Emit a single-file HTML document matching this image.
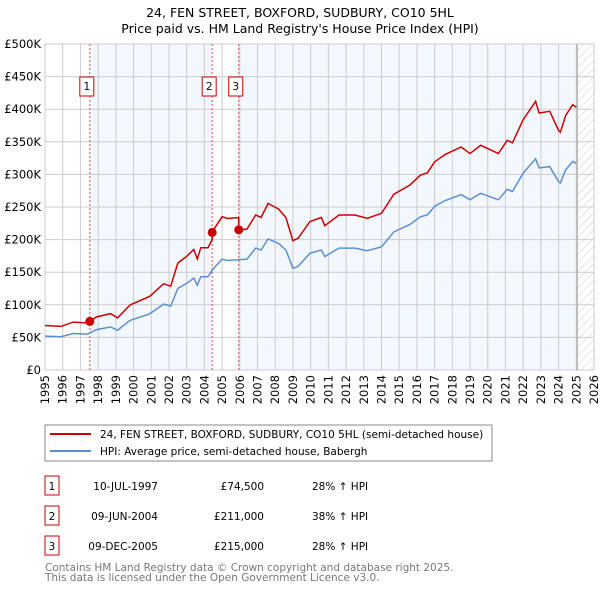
<!DOCTYPE html>
<html><head><meta charset="utf-8"><style>
body{margin:0;background:#fff;width:600px;height:590px;overflow:hidden;font-family:"DejaVu Sans","Liberation Sans",sans-serif}
svg text{font-family:"DejaVu Sans","Liberation Sans",sans-serif}
</style></head><body>
<svg id="chart" width="600" height="590" xmlns="http://www.w3.org/2000/svg">
<defs><pattern id="hatch" width="6" height="6" patternUnits="userSpaceOnUse" patternTransform="rotate(45)"><line x1="0" y1="0" x2="0" y2="6" stroke="#ccc" stroke-width="1"/></pattern></defs>
<text x="300" y="17" text-anchor="middle" font-size="12.5">24, FEN STREET, BOXFORD, SUDBURY, CO10 5HL</text>
<text x="300" y="33" text-anchor="middle" font-size="12.5">Price paid vs. HM Land Registry's House Price Index (HPI)</text>
<g id="plot"></g>
<g id="legend">
<rect x="45" y="425" width="447" height="36" fill="#fff" stroke="#888"/>
<line x1="50" y1="434" x2="91" y2="434" stroke="#cc0000" stroke-width="2"/>
<text x="100" y="438" font-size="10.5">24, FEN STREET, BOXFORD, SUDBURY, CO10 5HL (semi-detached house)</text>
<line x1="50" y1="451" x2="91" y2="451" stroke="#5b8fd4" stroke-width="2"/>
<text x="100" y="455" font-size="10.5">HPI: Average price, semi-detached house, Babergh</text>
</g>
<g id="table"></g>
<text x="45" y="571" font-size="10.5" fill="#777">Contains HM Land Registry data © Crown copyright and database right 2025.</text>
<text x="45" y="581" font-size="10.5" fill="#777">This data is licensed under the Open Government Licence v3.0.</text>
</svg>
<script>
const hpiYears=[1995.0,1995.9,1996.6,1997.4,1997.9,1998.7,1999.1,1999.8,2000.9,2001.7,2002.1,2002.5,2003.0,2003.4,2003.6,2003.8,2004.2,2004.5,2005.0,2005.3,2005.9,2006.4,2006.9,2007.2,2007.6,2008.2,2008.6,2009.0,2009.3,2009.96,2010.6,2010.8,2011.6,2012.5,2013.2,2014.0,2014.7,2015.6,2016.2,2016.6,2017.0,2017.6,2018.5,2019.0,2019.6,2020.6,2021.1,2021.4,2022.0,2022.7,2022.9,2023.5,2024.0,2024.1,2024.4,2024.8,2025.0];
const hpiValues=[52,51,56,55,62,66,61,76,86,101,98,125,133,141,130,143,143,155,170,168,169,170,187,184,201,194,184,156,159,179,184,174,187,187,183,189,212,223,235,238,251,260,269,261,271,261,277,274,302,324,310,312,289,287,307,320,317];
const saleLabels=["1","2","3"];
const saleDates=[1997.53,2004.44,2005.94];
const salePrices=[74.5,211,215];
const saleDateText=["10-JUL-1997","09-JUN-2004","09-DEC-2005"];
const salePriceText=["£74,500","£211,000","£215,000"];
const saleHpiText=["28% ↑ HPI","38% ↑ HPI","28% ↑ HPI"];
const yTicks=[0,50,100,150,200,250,300,350,400,450,500];
const yTickLabels=["£0","£50K","£100K","£150K","£200K","£250K","£300K","£350K","£400K","£450K","£500K"];
const xTicks=[1995,1996,1997,1998,1999,2000,2001,2002,2003,2004,2005,2006,2007,2008,2009,2010,2011,2012,2013,2014,2015,2016,2017,2018,2019,2020,2021,2022,2023,2024,2025,2026];
const dataEnd=2025.05;

const X0=45,X1=594,Y0=370,Y1=44,xmin=1995,xmax=2026,ymax=500;
const sx=v=>X0+(v-xmin)/(xmax-xmin)*(X1-X0);
const sy=v=>Y0-v/ymax*(Y0-Y1);
const NS="http://www.w3.org/2000/svg";
function mk(tag,attrs,parent){const e=document.createElementNS(NS,tag);for(const k in attrs)e.setAttribute(k,attrs[k]);parent.appendChild(e);return e;}
const plot=document.getElementById('plot');
function hpiAt(t){for(let i=0;i<hpiYears.length-1;i++){if(t<=hpiYears[i+1]){const f=(t-hpiYears[i])/(hpiYears[i+1]-hpiYears[i]);return hpiValues[i]+f*(hpiValues[i+1]-hpiValues[i]);}}return hpiValues[hpiValues.length-1];}

// background bands
let bg=mk('rect',{x:X0,y:Y1,width:X1-X0,height:Y0-Y1,fill:'#fff'},plot);


const bands=[[saleDates[0],saleDates[1]],[saleDates[2],dataEnd]];
bands.forEach(b=>{const r=mk('rect',{x:sx(b[0]),y:Y1,width:sx(b[1])-sx(b[0]),height:Y0-Y1,fill:'#eef3fd',opacity:0.7},plot);

});
const h=mk('rect',{x:sx(dataEnd),y:Y1,width:X1-sx(dataEnd),height:Y0-Y1,fill:'url(#hatch)'},plot);


// grid
xTicks.forEach(t=>{const l=mk('line',{x1:sx(t),x2:sx(t),y1:Y1,y2:Y0,stroke:'#cccccc','stroke-width':1},plot);


const tx=mk('text',{x:0,y:0,'font-size':11.5,'text-anchor':'end',transform:`translate(${sx(t)+4},${Y0+5}) rotate(-90)`},plot);
tx.textContent=t;

});
yTicks.forEach((t,i)=>{const l=mk('line',{x1:X0,x2:X1,y1:sy(t),y2:sy(t),stroke:'#cccccc','stroke-width':1},plot);


const tx=mk('text',{x:41,y:sy(t)+4,'font-size':11.5,'text-anchor':'end'},plot);
tx.textContent=yTickLabels[i];

});
const el=mk('line',{x1:sx(dataEnd),x2:sx(dataEnd),y1:Y1,y2:Y0,stroke:'#999','stroke-width':1},plot);


// sale vlines and labels
saleDates.forEach((d,i)=>{const l=mk('line',{x1:sx(d),x2:sx(d),y1:Y1,y2:Y0,stroke:'#e05050','stroke-width':1,'stroke-dasharray':'2,2'},plot);


const bx=sx(d)-(i==0?10:0)-(i==0?0:10);
const r=mk('rect',{x:sx(d)-10-(i==0?0:0)-(i==0?0:0),y:77,width:14,height:19,fill:'#fff',stroke:'#cc0000'},plot);
r.setAttribute('x',sx(d)-(i==0?10:(i==1?10:10)));


const t=mk('text',{x:sx(d)-3,y:90,'font-size':10.5,'text-anchor':'middle'},plot);
t.textContent=saleLabels[i];

});
// HPI line
const bpts=hpiYears.map((y,i)=>sx(y).toFixed(1)+','+sy(hpiValues[i]).toFixed(1)).join(' ');
const bl=mk('polyline',{points:bpts,fill:'none',stroke:'#5b8fd4','stroke-width':1.5},plot);


// property line: HPI scaled by latest sale
const ratios=saleDates.map((d,i)=>salePrices[i]/hpiAt(d));
function ratioAt(t){let k=0;for(let i=0;i<saleDates.length;i++)if(t>=saleDates[i])k=i;return ratios[k];}
const times=[...hpiYears,...saleDates].sort((a,b)=>a-b);
let rp=[];times.forEach(t=>{if(saleDates.includes(t)){const i=saleDates.indexOf(t);if(i>0)rp.push([t,hpiAt(t)*ratios[i-1]]);rp.push([t,salePrices[i]]);}else rp.push([t,hpiAt(t)*ratioAt(t)]);});
const rl=mk('polyline',{points:rp.map(p=>sx(p[0]).toFixed(1)+','+sy(p[1]).toFixed(1)).join(' '),fill:'none',stroke:'#cc0000','stroke-width':1.5},plot);


saleDates.forEach((d,i)=>{const c=mk('circle',{cx:sx(d),cy:sy(salePrices[i]),r:4.5,fill:'#cc0000'},plot);

});
// table
const tb=document.getElementById('table');
saleDates.forEach((d,i)=>{const y0=476+i*30;
const r=mk('rect',{x:45,y:y0,width:14,height:19,fill:'#fff',stroke:'#cc0000'},tb);


const cells=[[52,saleLabels[i],'middle'],[158,saleDateText[i],'end'],[264,salePriceText[i],'end'],[312,saleHpiText[i],'start']];
cells.forEach(c=>{const t=mk('text',{x:c[0],y:y0+14,'font-size':10.5,'text-anchor':c[2]},tb);t.textContent=c[1];

});});
</script>
</body></html>
